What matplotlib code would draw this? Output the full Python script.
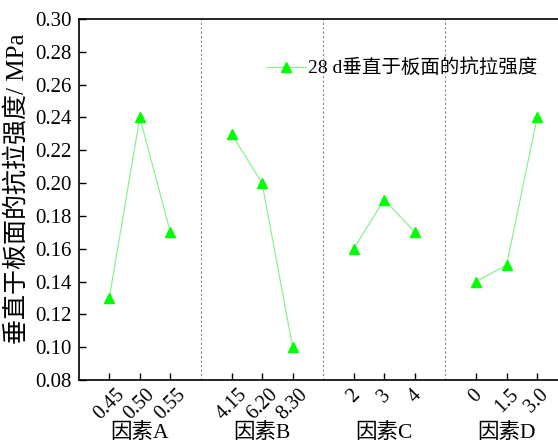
import matplotlib
matplotlib.use("Agg")
import matplotlib.pyplot as plt

plt.rcParams['font.family'] = ['Liberation Serif', 'Noto Sans CJK SC']

groups = ["因素A", "因素B", "因素C", "因素D"]
levels = [["0.45", "0.50", "0.55"],
          ["4.15", "6.20", "8.30"],
          ["2", "3", "4"],
          ["0", "1.5", "3.0"]]
strength = [[0.13, 0.24, 0.17],
            [0.23, 0.20, 0.10],
            [0.16, 0.19, 0.17],
            [0.14, 0.15, 0.24]]
series_name = "28 d垂直于板面的抗拉强度"

fig = plt.figure(figsize=(5.58, 4.45), dpi=100)
ax = fig.add_axes([78.7 / 558, 65 / 445, 489 / 558, 361 / 445])

line_color = '#8ff08f'
tick_pos = []
tick_lab = []
for g in range(len(groups)):
    xs = [4 * g + 1 + i for i in range(3)]
    tick_pos += xs
    tick_lab += levels[g]
    ax.plot(xs, strength[g], color=line_color, lw=0.9, marker='^', ms=7,
            mfc='#00ff00', mec='#00ff00',
            label=series_name if g == 0 else None)
    if g > 0:
        ax.axvline(4 * g, color='#888888', lw=0.8, ls=(0, (2, 2)))
    ax.text(4 * g + 2, -0.146, groups[g], transform=ax.get_xaxis_transform(),
            ha='center', va='center', fontsize=15.5)

ax.set_xlim(0, 16)
ax.set_ylim(0.08, 0.30)
ax.set_yticks([0.08 + 0.02 * i for i in range(12)])
ax.set_yticklabels(["%.2f" % (0.08 + 0.02 * i) for i in range(12)])
ax.set_xticks(tick_pos)
ax.set_xticklabels(tick_lab, rotation=45, ha='center', va='top')

ax.tick_params(axis='both', direction='in', length=5, width=1, labelsize=15)
ax.tick_params(axis='y', pad=5)
ax.tick_params(axis='x', pad=4, labelsize=14.5)
for s in ax.spines.values():
    s.set_linewidth(1.2)

ax.set_ylabel("垂直于板面的抗拉强度/ MPa", fontsize=18)
ax.yaxis.set_label_coords(-0.102, 0.53)

ax.legend(loc='center left', bbox_to_anchor=(188 / 489, 1 - 49 / 361),
          frameon=False, fontsize=14, handlelength=2.0, handletextpad=0.1,
          borderpad=0, borderaxespad=0)

fig.savefig("out.png", dpi=100)
